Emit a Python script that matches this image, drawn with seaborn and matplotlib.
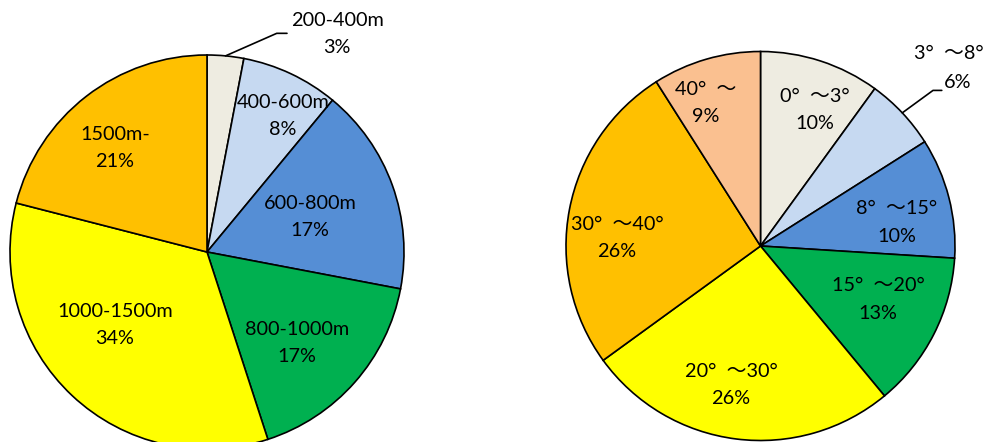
import numpy as np
import matplotlib
matplotlib.use("Agg")
import matplotlib.pyplot as plt
import seaborn as sns

sns.set_theme(style="white")
plt.rcParams["font.family"] = ["Lato", "Noto Sans CJK SC", "DejaVu Sans"]

# Elevation bands
elev_labels = ["200-400m", "400-600m", "600-800m", "800-1000m", "1000-1500m", "1500m-"]
elev_share = [3, 8, 17, 17, 34, 21]
elev_colors = ["#EEECE1", "#C6D9F1", "#558ED5", "#00B050", "#FFFF00", "#FFC000"]

# Slope bands
slope_labels = ["0°  ～3°", "3°  ～8°", "8°  ～15°", "15°  ～20°", "20°  ～30°", "30°  ～40°", "40°  ～"]
slope_share = [10, 6, 10, 13, 26, 26, 9]
slope_colors = ["#EEECE1", "#C6D9F1", "#558ED5", "#00B050", "#FFFF00", "#FFC000", "#FAC090"]

# label anchor points, in units of the pie radius (None = placed separately)
elev_pos = [(0.66, 1.105), (0.386, 0.69), (0.523, 0.176), (0.457, -0.46), (-0.467, -0.37), (-0.467, 0.526)]
slope_pos = [(0.28, 0.70), None, (0.702, 0.121), (0.604, -0.275), (-0.152, -0.715),
             (-0.738, 0.039), (-0.28, 0.733)]

W, H = 986, 442
fig = plt.figure(figsize=(W / 100, H / 100), dpi=100)
fig.patch.set_facecolor("white")

FS = 14.3
LS = 1.72


def pie_axes(cx, cy, r):
    # axes box in pixels (y downward) -> figure fraction
    return fig.add_axes([(cx - r) / W, (H - (cy + r)) / H, 2 * r / W, 2 * r / H])


def draw_pie(ax, values, colors, labels, positions):
    wedges, _ = ax.pie(values, colors=colors, startangle=90, counterclock=False,
                       radius=1, wedgeprops=dict(edgecolor="black", linewidth=1.2))
    ax.set_xlim(-1, 1)
    ax.set_ylim(-1, 1)
    ax.set_aspect("equal")
    ax.axis("off")
    for lab, v, pos in zip(labels, values, positions):
        if pos is None:
            continue
        ax.text(pos[0], pos[1], f"{lab}\n{v}%", ha="center", va="center", fontsize=FS,
                linespacing=LS, color="black", clip_on=False)
    return wedges


def leader(ax, wedge, knee, end):
    mid = np.deg2rad((wedge.theta1 + wedge.theta2) / 2)
    ax.plot([np.cos(mid), knee[0], end[0]], [np.sin(mid), knee[1], end[1]],
            color="black", lw=1.2, clip_on=False)


# left pie
axl = pie_axes(207, 252, 197)
wl = draw_pie(axl, elev_share, elev_colors, elev_labels, elev_pos)
leader(axl, wl[0], (0.354, 1.11), (0.406, 1.11))

# right pie
axr = pie_axes(760.5, 246, 194.5)
wr = draw_pie(axr, slope_share, slope_colors, slope_labels, slope_pos)
leader(axr, wr[1], (0.887, 0.80), (0.932, 0.80))
# outside label of the narrow 3°～8° wedge, kept inside the figure edge
axr.text(1.148, 0.992, slope_labels[1], ha="right", va="center", fontsize=FS,
         color="black", clip_on=False)
axr.text(1.012, 0.843, f"{slope_share[1]}%", ha="center", va="center", fontsize=FS,
         color="black", clip_on=False)

fig.savefig("out.png", dpi=100, facecolor="white")
